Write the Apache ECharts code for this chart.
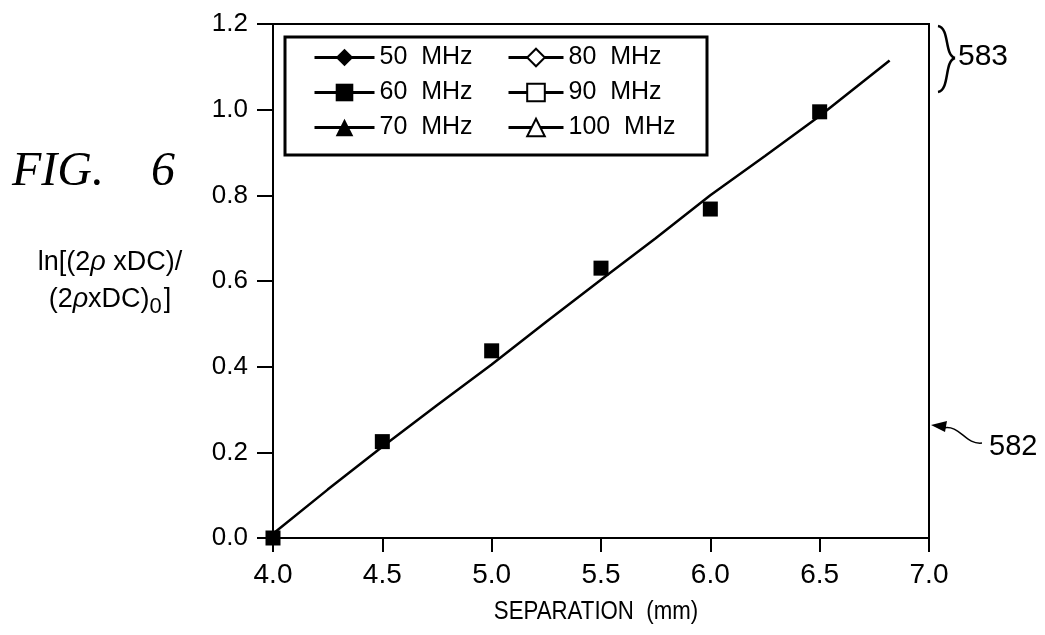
<!DOCTYPE html>
<html>
<head>
<meta charset="utf-8">
<script src="https://cdn.jsdelivr.net/npm/echarts@6/dist/echarts.min.js"></script>
<style>
html,body{margin:0;padding:0;background:#fff;}
#chart{width:1045px;height:635px;}
</style>
</head>
<body>
<div id="chart"></div>
<script>
// ---- data ----
const freqNames = ['50 MHz', '60 MHz', '70 MHz', '80 MHz', '90 MHz', '100 MHz'];
const separation = [4.0, 4.5, 5.0, 5.5, 6.0, 6.5];
const lnRatio60 = [0.0, 0.225, 0.437, 0.630, 0.768, 0.995];
const fitX = [4.0, 4.25, 4.5, 4.75, 5.0, 5.25, 5.5, 5.75, 6.0, 6.25, 6.5, 6.82];
const fitY = [0.01, 0.113, 0.213, 0.31, 0.405, 0.505, 0.603, 0.70, 0.80, 0.892, 0.985, 1.115];
const xTicks = { min: 4.0, max: 7.0, step: 0.5 };
const yTicks = { min: 0.0, max: 1.2, step: 0.2 };

const FONT = '"Liberation Sans", Arial, sans-serif';
const pair = (xs, ys) => xs.map((x, i) => [x, ys[i]]);

const symbolFor = {
  '50 MHz': { symbol: 'diamond', fill: '#000' },
  '60 MHz': { symbol: 'rect', fill: '#000' },
  '70 MHz': { symbol: 'triangle', fill: '#000' },
  '80 MHz': { symbol: 'diamond', fill: '#fff' },
  '90 MHz': { symbol: 'rect', fill: '#fff' },
  '100 MHz': { symbol: 'triangle', fill: '#fff' }
};

const series = freqNames.map(name => ({
  name: name,
  type: 'line',
  data: name === '60 MHz' ? pair(separation, lnRatio60) : [],
  symbol: symbolFor[name].symbol,
  symbolSize: 15,
  showSymbol: true,
  lineStyle: { width: 0, opacity: 0 },
  itemStyle: { color: symbolFor[name].fill, borderColor: '#000', borderWidth: symbolFor[name].fill === '#fff' ? 1.5 : 0 },
  z: 5,
  silent: true
}));

series.push({
  name: 'fit',
  type: 'line',
  data: pair(fitX, fitY),
  showSymbol: false,
  symbol: 'none',
  lineStyle: { color: '#000', width: 2.5 },
  z: 3,
  silent: true
});

const legendCommon = {
  orient: 'vertical',
  itemWidth: 60,
  itemHeight: 22,
  itemGap: 10,
  textStyle: { fontFamily: FONT, fontSize: 25, lineHeight: 25, color: '#000' },
  lineStyle: { color: '#000', width: 3, opacity: 1 },
  formatter: n => n.replace(' ', '  '),
  selectedMode: false,
  z: 10
};

const option = {
  animation: false,
  backgroundColor: '#fff',
  grid: {
    left: 273, right: 116, top: 24, bottom: 97,
    show: true, borderColor: '#000', borderWidth: 2, backgroundColor: 'transparent'
  },
  xAxis: {
    type: 'value',
    min: xTicks.min, max: xTicks.max, interval: xTicks.step,
    axisLine: { show: true, lineStyle: { color: '#000', width: 2 } },
    axisTick: { show: true, length: 14, lineStyle: { color: '#000', width: 2 } },
    axisLabel: { color: '#000', fontFamily: FONT, fontSize: 28, margin: 23, formatter: v => v.toFixed(1) },
    splitLine: { show: false }
  },
  yAxis: {
    type: 'value',
    min: yTicks.min, max: yTicks.max, interval: yTicks.step,
    axisLine: { show: true, lineStyle: { color: '#000', width: 2 } },
    axisTick: { show: true, length: 16, lineStyle: { color: '#000', width: 2 } },
    axisLabel: { color: '#000', fontFamily: FONT, fontSize: 26, margin: 25, formatter: v => v.toFixed(1) },
    splitLine: { show: false }
  },
  legend: [
    Object.assign({}, legendCommon, { data: ['50 MHz', '60 MHz', '70 MHz'], left: 308, top: 40 }),
    Object.assign({}, legendCommon, { data: ['80 MHz', '90 MHz', '100 MHz'], left: 502, top: 40, itemWidth: 55 })
  ],
  graphic: [
    { type: 'rect', z: 1, shape: { x: 285, y: 37, width: 422, height: 118 },
      style: { fill: '#fff', stroke: '#000', lineWidth: 3 } },
    { type: 'text', x: 12, y: 172,
      style: { text: 'FIG.', font: 'italic 48px "Liberation Serif", serif', fill: '#000', verticalAlign: 'middle' } },
    { type: 'text', x: 151, y: 172,
      style: { text: '6', font: 'italic 48px "Liberation Serif", serif', fill: '#000', verticalAlign: 'middle' } },
    { type: 'text', x: 110, y: 281,
      style: {
        text: '{a|ln[(2}{r|ρ}{a| xDC)/}\n{a|(2}{r|ρ}{a|xDC)}{s|0}{a|]}',
        align: 'center', verticalAlign: 'middle', fill: '#000',
        rich: {
          a: { fontFamily: FONT, fontSize: 27, lineHeight: 37, fill: '#000' },
          r: { fontFamily: FONT, fontSize: 27, fontStyle: 'italic', lineHeight: 37, fill: '#000' },
          s: { fontFamily: FONT, fontSize: 22, lineHeight: 37, padding: [14, 2, 0, 0], fill: '#000' }
        }
      } },
    { type: 'text', x: 596, y: 612, scaleX: 0.89,
      style: { text: 'SEPARATION  (mm)', font: '25px ' + FONT, fill: '#000', align: 'center', verticalAlign: 'middle' } },
    { type: 'bezierCurve', shape: { x1: 938, y1: 26, cpx1: 950, cpy1: 28, cpx2: 944, cpy2: 55, x2: 955, y2: 58 },
      style: { fill: 'none', stroke: '#000', lineWidth: 2.5 } },
    { type: 'bezierCurve', shape: { x1: 955, y1: 58, cpx1: 944, cpy1: 61, cpx2: 950, cpy2: 90, x2: 938, y2: 92 },
      style: { fill: 'none', stroke: '#000', lineWidth: 2.5 } },
    { type: 'text', x: 958, y: 57,
      style: { text: '583', font: '30px ' + FONT, fill: '#000', align: 'left', verticalAlign: 'middle' } },
    { type: 'bezierCurve', shape: { x1: 943, y1: 428, cpx1: 960, cpy1: 424, cpx2: 965, cpy2: 445, x2: 982, y2: 443 },
      style: { fill: 'none', stroke: '#000', lineWidth: 1.5 } },
    { type: 'polygon', shape: { points: [[931, 425], [947, 421], [945, 432]] }, style: { fill: '#000' } },
    { type: 'text', x: 989, y: 447,
      style: { text: '582', font: '29px ' + FONT, fill: '#000', align: 'left', verticalAlign: 'middle' } }
  ],
  series: series
};

const chart = echarts.init(document.getElementById('chart'), null, { renderer: 'canvas' });
chart.setOption(option);
</script>
</body>
</html>
